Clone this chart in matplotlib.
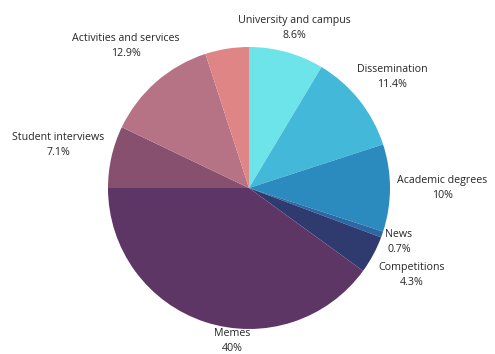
import matplotlib.pyplot as plt

# topic shares, clockwise from 12 o'clock
categories = ["University and campus", "Dissemination", "Academic degrees", "News",
              "Competitions", "Memes", "Student interviews", "Activities and services", ""]
shares = [8.6, 11.4, 10, 0.7, 4.3, 40, 7.1, 12.9, 5.0]
pct_labels = ["8.6%", "11.4%", "10%", "0.7%", "4.3%", "40%", "7.1%", "12.9%", ""]

colors = ["#6ce4e9", "#44b8d9", "#2b8bbe", "#2c68a4", "#2f3a6f",
          "#5e3666", "#88506f", "#b77386", "#e08585"]

# label centres in units of the pie radius
label_xy = [(0.319, 1.135), (1.014, 0.787), (1.369, 0.0), (1.064, -0.383),
            (1.156, -0.617), (-0.121, -1.085), (-1.351, 0.305), (-0.876, 1.007), (0, 0)]

plt.rcParams['font.family'] = ['Open Sans', 'DejaVu Sans']

W, H = 495, 354
cx, cy, R = 249, 188, 141
fig = plt.figure(figsize=(W / 100, H / 100), dpi=100)
ax = fig.add_axes([0, 0, 1, 1])

ax.pie(shares, colors=colors, startangle=90, counterclock=False, radius=1.0,
       wedgeprops=dict(linewidth=0))

for name, pct, (lx, ly) in zip(categories, pct_labels, label_xy):
    if not name:
        continue
    ax.text(lx, ly, name + "\n" + pct, ha='center', va='center', multialignment='center',
            fontsize=7.7, color='#262626', linespacing=1.5)

ax.set_xlim(-cx / R, (W - cx) / R)
ax.set_ylim(-(H - cy) / R, cy / R)
ax.set_aspect('equal')
ax.axis('off')

fig.savefig("out.png", dpi=100)
